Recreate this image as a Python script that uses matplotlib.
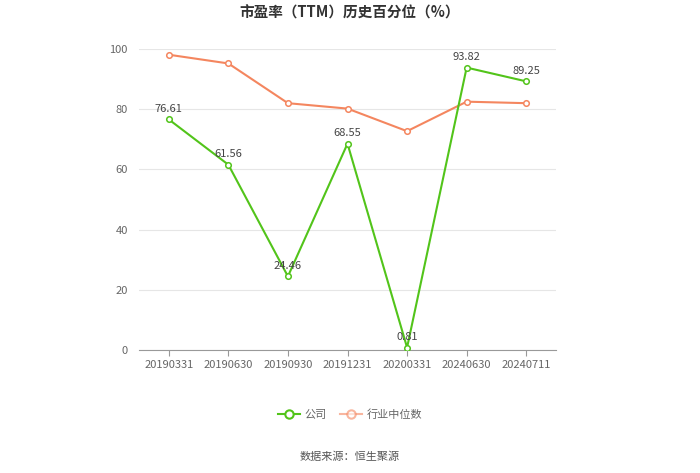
import matplotlib
matplotlib.use("Agg")
import matplotlib.pyplot as plt
from matplotlib.lines import Line2D

plt.rcParams['font.family'] = ['Noto Sans CJK SC', 'DejaVu Sans']

categories = ["20190331", "20190630", "20190930", "20191231", "20200331", "20240630", "20240711"]
company = [76.61, 61.56, 24.46, 68.55, 0.81, 93.82, 89.25]
industry = [98.1, 95.2, 82.0, 80.2, 72.7, 82.5, 82.0]
yticks = [0, 20, 40, 60, 80, 100]

green = "#52c41a"
orange = "#f4865f"

fig = plt.figure(figsize=(7, 4.73), dpi=100)
ax = fig.add_axes([139/700, 1-350/473, 417/700, 301/473])

x = list(range(len(categories)))
ax.plot(x, industry, color=orange, lw=1.5, marker='o', ms=4, mfc='white', mec=orange, mew=1.1, zorder=3)
ax.plot(x, company, color=green, lw=1.5, marker='o', ms=4, mfc='white', mec=green, mew=1.1, zorder=4)

for xi, v in zip(x, company):
    ax.annotate(f"{v:.2f}", (xi, v), xytext=(0, 4), textcoords='offset points',
                ha='center', va='bottom', fontsize=8, color='#444444', zorder=5)

ax.set_xlim(-0.5, len(categories) - 0.5)
ax.set_ylim(0, 100)
ax.set_yticks(yticks)
ax.set_xticks(x)
ax.set_xticklabels(categories)
ax.tick_params(axis='y', length=0, labelsize=8, colors='#666666', pad=8)
ax.tick_params(axis='x', length=4, color='#999999', labelsize=8, labelcolor='#666666', pad=3)
ax.grid(axis='y', color='#e6e6e6', lw=0.8)
ax.set_axisbelow(True)
for s in ['top', 'right', 'left']:
    ax.spines[s].set_visible(False)
ax.spines['bottom'].set_color('#999999')

fig.text(0.5, 1-13/473, "市盈率（TTM）历史百分位（%）", ha='center', va='center',
         fontsize=10.5, fontweight='bold', color='#333333')

handles = [Line2D([0], [0], color=green, lw=1.5, marker='o', ms=6, mfc='white', mec=green, mew=1.5),
           Line2D([0], [0], color=orange, lw=1.5, marker='o', ms=6, mfc='white', mec=orange, mew=1.5, alpha=0.6)]
leg = fig.legend(handles, ["公司", "行业中位数"], loc='center', bbox_to_anchor=(0.5, 1-415/473),
                 ncol=2, frameon=False, fontsize=8, handlelength=2, columnspacing=1.2, handletextpad=0.4)
for t in leg.get_texts():
    t.set_color('#666666')

fig.text(0.5, 1-457/473, "数据来源：恒生聚源", ha='center', va='center', fontsize=8, color='#555555')

fig.savefig("out.png", dpi=100)
